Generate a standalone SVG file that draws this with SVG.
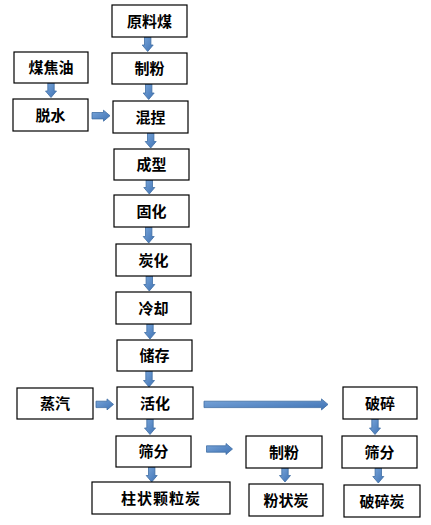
<svg xmlns="http://www.w3.org/2000/svg" width="431" height="525" viewBox="0 0 431 525">
<style>
.box{fill:#fff;stroke:#000;stroke-width:1.2}
.t{font-family:"Noto Sans CJK SC","Liberation Sans",sans-serif;font-size:15px;font-weight:bold;fill:#000;text-anchor:middle}
.ar{fill:url(#g);stroke:#3F6DA3;stroke-width:0.8}
</style>
<defs>
<linearGradient id="g" x1="0" y1="0" x2="1" y2="1">
<stop offset="0" stop-color="#7AA6DA"/>
<stop offset="1" stop-color="#3E72B4"/>
</linearGradient>
</defs>
<rect width="431" height="525" fill="#fff"/>
<g id="connectors">
<!-- down arrows: shaft hw 3.2, head hw 5.5, head len 6 -->
<path class="ar" d="M144.5,37 h6.4 v8 h2.3 l-5.5,6.5 l-5.5,-6.5 h2.3 z"/>
<path class="ar" d="M145.5,84 h6.4 v9 h2.3 l-5.5,6.5 l-5.5,-6.5 h2.3 z"/>
<path class="ar" d="M47.8,83 h6.4 v8 h2.3 l-5.5,6.5 l-5.5,-6.5 h2.3 z"/>
<path class="ar" d="M147.5,133 h6.4 v8.5 h2.3 l-5.5,6.5 l-5.5,-6.5 h2.3 z"/>
<path class="ar" d="M146.1,180 h6.4 v7.5 h2.3 l-5.5,6.5 l-5.5,-6.5 h2.3 z"/>
<path class="ar" d="M145.5,227 h6.4 v9.5 h2.3 l-5.5,6.5 l-5.5,-6.5 h2.3 z"/>
<path class="ar" d="M146.1,276 h6.4 v8.5 h2.3 l-5.5,6.5 l-5.5,-6.5 h2.3 z"/>
<path class="ar" d="M146.8,324 h6.4 v8.5 h2.3 l-5.5,6.5 l-5.5,-6.5 h2.3 z"/>
<path class="ar" d="M145.8,371 h6.4 v9.5 h2.3 l-5.5,6.5 l-5.5,-6.5 h2.3 z"/>
<path class="ar" d="M146.8,419 h6.4 v9 h2.3 l-5.5,6.5 l-5.5,-6.5 h2.3 z"/>
<path class="ar" d="M148.5,467 h6.4 v8.5 h2.3 l-5.5,6.5 l-5.5,-6.5 h2.3 z"/>
<path class="ar" d="M371.8,419 h6.4 v9 h2.3 l-5.5,6.5 l-5.5,-6.5 h2.3 z"/>
<path class="ar" d="M375.1,468 h6.4 v8.5 h2.3 l-5.5,6.5 l-5.5,-6.5 h2.3 z"/>
<path class="ar" d="M281.8,468 h6.4 v7.5 h2.3 l-5.5,6.5 l-5.5,-6.5 h2.3 z"/>
<!-- right arrows -->
<path class="ar" d="M92,112.5 h11.5 v-2.3 l6.5,5.5 l-6.5,5.5 v-2.3 h-11.5 z"/>
<path class="ar" d="M96,401.2 h11 v-2.3 l6.5,5.5 l-6.5,5.5 v-2.3 h-11 z"/>
<path class="ar" d="M204,401.2 h117.5 v-2.3 l6.5,5.5 l-6.5,5.5 v-2.3 h-117.5 z"/>
<path class="ar" d="M206.5,445.8 h19.5 v-2.3 l6.5,5.5 l-6.5,5.5 v-2.3 h-19.5 z"/>
</g>
<g id="n1"><rect class="box" x="112" y="5" width="75" height="32"/><text class="t" x="149.5" y="26.5">原料煤</text></g>
<g id="n2"><rect class="box" x="112" y="53" width="75" height="31"/><text class="t" x="149.5" y="74">制粉</text></g>
<g id="n3"><rect class="box" x="14" y="52" width="74" height="31"/><text class="t" x="51" y="73">煤焦油</text></g>
<g id="n4"><rect class="box" x="13" y="99" width="75" height="32"/><text class="t" x="50.5" y="120.5">脱水</text></g>
<g id="n5"><rect class="box" x="113" y="101" width="75" height="32"/><text class="t" x="150.5" y="122.5">混捏</text></g>
<g id="n6"><rect class="box" x="114" y="149" width="75" height="31"/><text class="t" x="151.5" y="170">成型</text></g>
<g id="n7"><rect class="box" x="114" y="195" width="75" height="32"/><text class="t" x="151.5" y="216.5">固化</text></g>
<g id="n8"><rect class="box" x="116" y="244" width="75" height="32"/><text class="t" x="153.5" y="265.5">炭化</text></g>
<g id="n9"><rect class="box" x="116" y="292" width="75" height="32"/><text class="t" x="153.5" y="313.5">冷却</text></g>
<g id="n10"><rect class="box" x="117" y="340" width="75" height="31"/><text class="t" x="154.5" y="361">储存</text></g>
<g id="n11"><rect class="box" x="17" y="388" width="76" height="31"/><text class="t" x="55" y="409">蒸汽</text></g>
<g id="n12"><rect class="box" x="117" y="387" width="76" height="32"/><text class="t" x="155" y="408.5">活化</text></g>
<g id="n13"><rect class="box" x="116" y="436" width="75" height="31"/><text class="t" x="153.5" y="457">筛分</text></g>
<g id="n14"><rect class="box" x="92" y="482" width="138" height="32"/><text class="t" x="161" y="503.5" letter-spacing="1">柱状颗粒炭</text></g>
<g id="n15"><rect class="box" x="343" y="387" width="74" height="32"/><text class="t" x="380" y="408.5">破碎</text></g>
<g id="n16"><rect class="box" x="342" y="436" width="75" height="32"/><text class="t" x="379.5" y="457.5">筛分</text></g>
<g id="n17"><rect class="box" x="344" y="485" width="76" height="32"/><text class="t" x="382" y="506.5">破碎炭</text></g>
<g id="n18"><rect class="box" x="246" y="436" width="76" height="32"/><text class="t" x="284" y="457.5">制粉</text></g>
<g id="n19"><rect class="box" x="249" y="484" width="74" height="32"/><text class="t" x="286" y="505.5">粉状炭</text></g>
</svg>
